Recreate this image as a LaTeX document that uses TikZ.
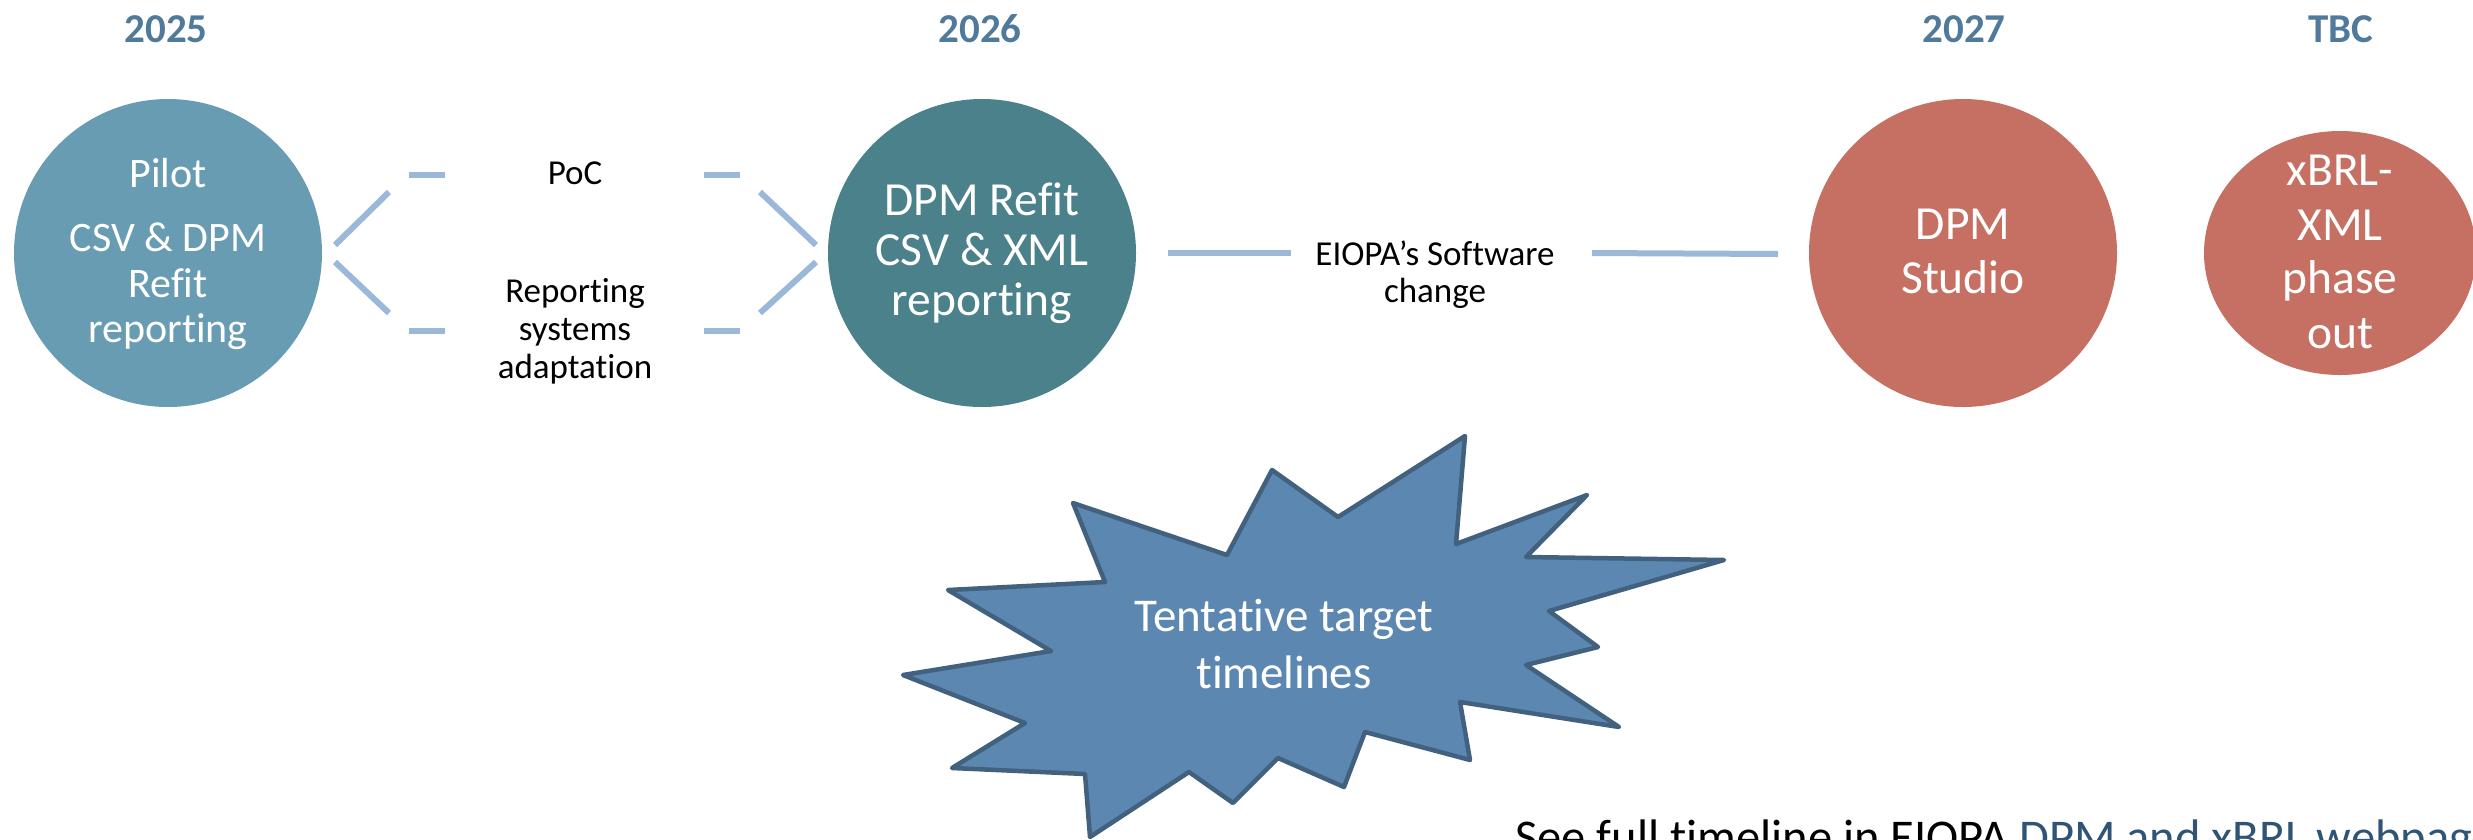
\documentclass[tikz,border=0pt]{standalone}
\usepackage{fontspec}
\setmainfont{Carlito}[Ligatures=NoCommon]
\usetikzlibrary{shapes.geometric}
\definecolor{cA}{HTML}{689CB3}
\definecolor{cB}{HTML}{4A818B}
\definecolor{cC}{HTML}{C57062}
\definecolor{lineblue}{HTML}{9BB8D9}
\definecolor{yearblue}{HTML}{4F7A9B}
\definecolor{starfill}{HTML}{5B87B1}
\definecolor{stardraw}{HTML}{41617F}
\definecolor{linkblue}{HTML}{2F5475}
\begin{document}
\begin{tikzpicture}[x=1pt,y=-1pt,
  disc/.style={circle, inner sep=0pt, minimum size=308pt},
  year/.style={font=\bfseries\fontsize{41}{49}\selectfont, text=yearblue, anchor=base, inner sep=0pt},
  wtA/.style={text=white, font=\fontsize{42}{46}\selectfont, anchor=base, inner sep=0pt},
  wtB/.style={text=white, font=\fontsize{47.5}{52}\selectfont, anchor=base, inner sep=0pt},
  lbl/.style={font=\fontsize{35}{40}\selectfont, anchor=base, inner sep=0pt},
  startxt/.style={text=white, font=\fontsize{47}{57}\selectfont, anchor=base, inner sep=0pt},
  conn/.style={draw=lineblue, line width=6pt}]
\useasboundingbox (0,0) rectangle (2473,839);

% year labels
\node[year] (y25) at (166,42) {2025};
\node[year] (y26) at (980,42) {2026};
\node[year] (y27) at (1964,42) {2027};
\node[year] (ytbc) at (2341,42) {TBC};

% circles
\node[disc, fill=cA] (pilot) at (168,253) {};
\node[disc, fill=cB] (refit) at (982,253) {};
\node[disc, fill=cC] (studio) at (1963,253) {};
\node[ellipse, inner sep=0pt, minimum width=272pt, minimum height=244pt, fill=cC] (xbrl) at (2340,253) {};

% circle texts
\node[wtA] (p1) at (168,187) {Pilot};
\node[wtA] (p2) at (168,251) {CSV \& DPM};
\node[wtA] (p3) at (168,297) {Refit};
\node[wtA] (p4) at (168,342) {reporting};

\node[wtB] (r1) at (982,215) {DPM Refit};
\node[wtB] (r2) at (982,265) {CSV \& XML};
\node[wtB] (r3) at (982,315) {reporting};

\node[wtB] (s1) at (1963,239) {DPM};
\node[wtB] (s2) at (1963,293) {Studio};

\node[wtB] (x1) at (2340,185) {xBRL-};
\node[wtB] (x2) at (2340,240) {XML};
\node[wtB] (x3) at (2340,293) {phase};
\node[wtB] (x4) at (2340,348) {out};

% labels
\node[lbl] (poc) at (575,184) {PoC};
\node[lbl] (ra1) at (575,302) {Reporting};
\node[lbl] (ra2) at (575,340) {systems};
\node[lbl] (ra3) at (575,378) {adaptation};
\node[lbl] (sw1) at (1435,265) {EIOPA’s Software};
\node[lbl] (sw2) at (1435,302) {change};

% connector pieces
\coordinate (a1) at (335,245); \coordinate (a2) at (389,192);
\coordinate (a3) at (409,175); \coordinate (a4) at (445,175);
\coordinate (a5) at (704,175); \coordinate (a6) at (740,175);
\coordinate (a7) at (760,192); \coordinate (a8) at (816,245);
\coordinate (b1) at (335,262); \coordinate (b2) at (389,313);
\coordinate (b3) at (409,331); \coordinate (b4) at (445,331);
\coordinate (b5) at (704,331); \coordinate (b6) at (740,331);
\coordinate (b7) at (760,313); \coordinate (b8) at (816,262);
\coordinate (m1) at (1168,253); \coordinate (m2) at (1291,253);
\coordinate (m3) at (1592,253); \coordinate (m4) at (1778,254);
\draw[conn] (a1) -- (a2); \draw[conn] (a3) -- (a4);
\draw[conn] (a5) -- (a6); \draw[conn] (a7) -- (a8);
\draw[conn] (b1) -- (b2); \draw[conn] (b3) -- (b4);
\draw[conn] (b5) -- (b6); \draw[conn] (b7) -- (b8);
\draw[conn] (m1) -- (m2); \draw[conn] (m3) -- (m4);

% star
\draw[fill=starfill, draw=stardraw, line width=4.5pt, line join=round]
  (1073,503) -- (1227,555) -- (1272,470) -- (1338,517) -- (1465,436) --
  (1456,544) -- (1587,495) -- (1526,557) -- (1724,560) -- (1549,611) --
  (1598,647) -- (1526,665) -- (1619,727) -- (1460,702) -- (1470,760) --
  (1365,732) -- (1344,787) -- (1278,758) -- (1233,803) -- (1189,772) --
  (1090,837) -- (1085,774) -- (952,768) -- (1025,723) -- (903,675) --
  (1051,651) -- (948,590) -- (1105,582) -- cycle;
\node[startxt] (st1) at (1284,631) {Tentative target};
\node[startxt] (st2) at (1284,688) {timelines};

% bottom note
\node[font=\fontsize{48.5}{58}\selectfont, anchor=base west, inner sep=0pt] (note) at (1515,853) {See full timeline in EIOPA \textcolor{linkblue}{DPM and xBRL webpage}};
\end{tikzpicture}
\end{document}
